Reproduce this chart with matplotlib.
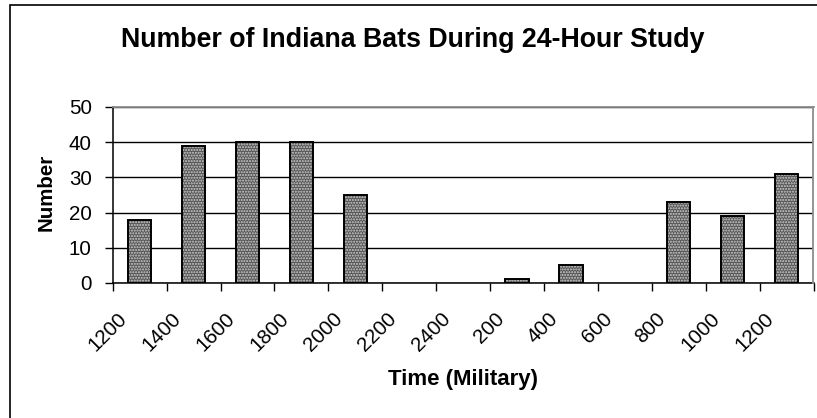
import numpy as np
import matplotlib.pyplot as plt
import matplotlib.transforms as mtransforms
from matplotlib.patches import Rectangle

plt.rcParams['font.family'] = ['Liberation Sans', 'DejaVu Sans']
plt.rcParams['hatch.linewidth'] = 1.0

times = ['1200', '1400', '1600', '1800', '2000', '2200', '2400',
         '200', '400', '600', '800', '1000', '1200']
bats = [18, 39, 40, 40, 25, 0, 0, 1, 5, 0, 23, 19, 31]
yticks = [0, 10, 20, 30, 40, 50]

W, H = 817, 418
fig = plt.figure(figsize=(W / 100, H / 100), dpi=100)
ax = fig.add_axes([112.7 / W, 1 - 283 / H, (813.5 - 112.7) / W, (283 - 107) / H])

x = np.arange(len(times))
# dotted fill, then a solid black outline on top
fill = ax.bar(x, bats, width=0.43, color='#555555', edgecolor='#d0d0d0', hatch='......',
              linewidth=0, zorder=2)
edge = ax.bar(x, bats, width=0.43, fill=False, edgecolor='black', linewidth=1.4, zorder=3)
for p in list(fill) + list(edge):
    if p.get_height() == 0:
        p.set_visible(False)

ax.set_xlim(-0.5, len(times) - 0.5)
ax.set_ylim(0, 50)
ax.set_yticks(yticks)
ax.set_yticklabels([str(v) for v in yticks], fontsize=14.8)
ax.tick_params(axis='y', length=6, width=1, pad=9, direction='out')

# tick marks between categories, labels at the centres
ax.set_xticks(np.arange(len(times) + 1) - 0.5, minor=True)
ax.set_xticks(x)
ax.set_xticklabels(times, fontsize=14.8, rotation=45, ha='right', va='top')
ax.tick_params(axis='x', which='minor', length=6, width=1, direction='out')
ax.tick_params(axis='x', which='major', length=0, pad=19)
shift = mtransforms.ScaledTranslation(-9 / 100, 0, fig.dpi_scale_trans)
for lab in ax.get_xticklabels():
    lab.set_transform(lab.get_transform() + shift)

ax.set_axisbelow(True)
ax.yaxis.grid(True, color='black', linewidth=1)
for s in ['top', 'right']:
    ax.spines[s].set_color('#8c8c8c')
    ax.spines[s].set_linewidth(1.3)
    ax.spines[s].set_zorder(5)
for s in ['left', 'bottom']:
    ax.spines[s].set_color('black')
    ax.spines[s].set_linewidth(1.1)

fig.text(46 / W, 1 - 192 / H, 'Number', rotation=90, fontsize=14.8,
         fontweight='bold', ha='center', va='center')
fig.text(463 / W, 1 - 379 / H, 'Time (Military)', fontsize=16,
         fontweight='bold', ha='center', va='center')
fig.text(413 / W, 1 - 46.7 / H, 'Number of Indiana Bats During 24-Hour Study',
         fontsize=19.3, fontweight='bold', ha='center', va='baseline')

# chart frame
fig.patches.append(Rectangle((10 / W, -0.05), 1.0, 1 - 5 / H + 0.05,
                             transform=fig.transFigure, fill=False,
                             edgecolor='black', linewidth=1.2))

fig.savefig('out.png', dpi=100)
